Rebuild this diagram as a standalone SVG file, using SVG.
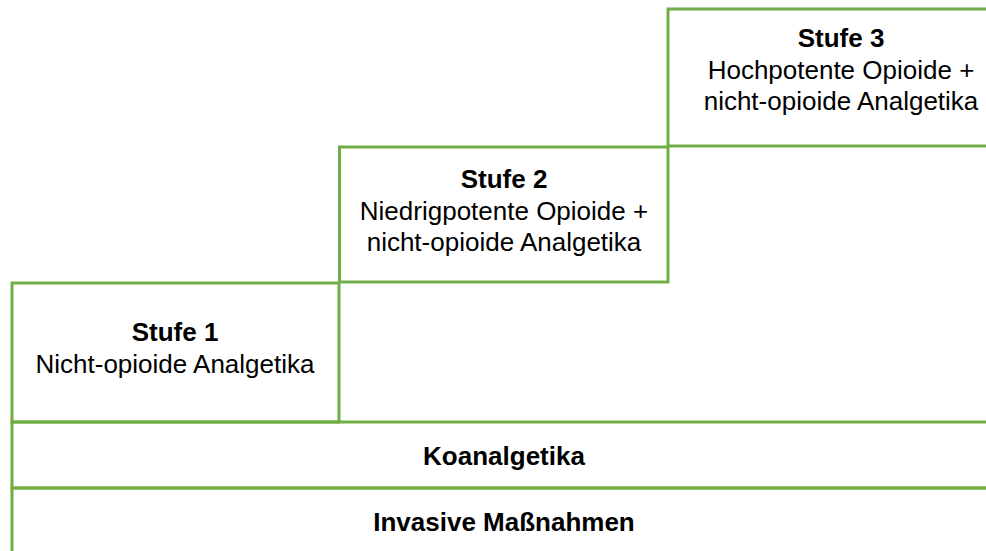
<svg xmlns="http://www.w3.org/2000/svg" width="986" height="551" viewBox="0 0 986 551">
<style>
.box{fill:none;stroke:#70AD47;stroke-width:3}
.t{font-family:"Liberation Sans",Arial,sans-serif;font-size:26px;fill:#000;text-anchor:middle}
.b{font-weight:bold}
</style>
<rect width="986" height="551" fill="#fff"/>
<g id="invasive">
<rect class="box" x="12" y="488" width="1000" height="80"/>
<text class="t b" x="504" y="531">Invasive Maßnahmen</text>
</g>
<g id="koanalgetika">
<rect class="box" x="12" y="422" width="1000" height="66"/>
<text class="t b" x="504" y="465">Koanalgetika</text>
</g>
<g id="stufe1">
<rect class="box" x="12" y="283" width="327" height="139"/>
<text class="t b" x="175" y="341">Stufe 1</text>
<text class="t" x="175" y="373">Nicht-opioide Analgetika</text>
</g>
<g id="stufe2">
<rect class="box" x="339.5" y="147" width="328.5" height="135"/>
<text class="t b" x="504" y="188">Stufe 2</text>
<text class="t" x="504" y="220">Niedrigpotente Opioide +</text>
<text class="t" x="504" y="251">nicht-opioide Analgetika</text>
</g>
<g id="stufe3">
<rect class="box" x="668" y="9" width="346" height="137"/>
<text class="t b" x="841" y="47">Stufe 3</text>
<text class="t" x="841" y="79">Hochpotente Opioide +</text>
<text class="t" x="841" y="110">nicht-opioide Analgetika</text>
</g>
<g id="connectors"></g>
</svg>
